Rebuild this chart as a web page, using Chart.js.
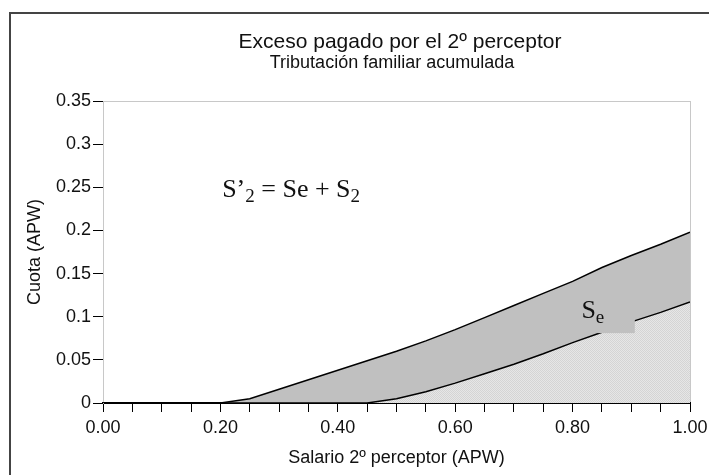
<!DOCTYPE html>
<html>
<head>
<meta charset="utf-8">
<script src="https://cdn.jsdelivr.net/npm/chart.js@4.4.1/dist/chart.umd.min.js"></script>
<style>
    html, body { margin: 0; padding: 0; background: #fff; }
    #wrap { width: 709px; height: 475px; }
</style>
</head>
<body>
<div id="wrap"><canvas id="grafico"></canvas></div>
<script>
// salario del 2º perceptor (APW)
const salario = [0, 0.05, 0.10, 0.15, 0.20, 0.25, 0.30, 0.35, 0.40, 0.45, 0.50,
    0.55, 0.60, 0.65, 0.70, 0.75, 0.80, 0.85, 0.90, 0.95, 1.00];
// S'2 = Se + S2 (tributación familiar acumulada)
const cuotaAcumulada = [0, 0, 0, 0, 0, 0.005, 0.016, 0.027, 0.038, 0.049, 0.060,
    0.072, 0.085, 0.099, 0.113, 0.127, 0.141, 0.157, 0.171, 0.184, 0.198];
// S2
const cuotaIndividual = [0, 0, 0, 0, 0, 0, 0, 0, 0, 0, 0.005,
    0.013, 0.023, 0.034, 0.045, 0.057, 0.070, 0.082, 0.094, 0.105, 0.117];

const titulo = "Exceso pagado por el 2º perceptor";
const subtitulo = "Tributación familiar acumulada";
const formula = ["S’", "2", " = Se + S", "2"];

const fuente = "'Liberation Sans', Arial, sans-serif";
const serif = "'Liberation Serif', 'Times New Roman', serif";

function puntos(ys) {
    return salario.map((x, i) => ({ x: x, y: ys[i] }));
}

// trama punteada del área inferior
function trama() {
    const c = document.createElement("canvas");
    c.width = 2;
    c.height = 2;
    const g = c.getContext("2d");
    g.fillStyle = "#e6e6e6";
    g.fillRect(0, 0, 2, 2);
    g.fillStyle = "#d4d4d4";
    g.fillRect(0, 0, 1, 1);
    g.fillRect(1, 1, 1, 1);
    return g.createPattern(c, "repeat");
}

const marco = {
    id: "marco",
    beforeDraw(chart) {
        const ctx = chart.ctx;
        const a = chart.chartArea;
        ctx.save();
        ctx.fillStyle = "#fff";
        ctx.fillRect(0, 0, chart.width, chart.height);
        ctx.strokeStyle = "#444";
        ctx.lineWidth = 2;
        ctx.beginPath();
        ctx.moveTo(10, chart.height);
        ctx.lineTo(10, 13);
        ctx.lineTo(chart.width, 13);
        ctx.stroke();
        ctx.strokeStyle = "#c8c8c8";
        ctx.lineWidth = 1;
        ctx.strokeRect(a.left + 0.5, a.top + 0.5, a.right - a.left, a.bottom - a.top);
        ctx.fillStyle = "#111";
        ctx.textAlign = "center";
        ctx.textBaseline = "middle";
        ctx.font = "21px " + fuente;
        ctx.fillText(titulo, 400, 42);
        ctx.font = "18px " + fuente;
        ctx.fillText(subtitulo, 392, 63);
        ctx.restore();
    },
    afterDatasetsDraw(chart) {
        const ctx = chart.ctx;
        const x = chart.scales.x;
        const y = chart.scales.y;
        ctx.save();
        // parche bajo la etiqueta Se
        ctx.fillStyle = "#c0c0c0";
        ctx.fillRect(x.getPixelForValue(0.842), y.getPixelForValue(0.12),
            x.getPixelForValue(0.906) - x.getPixelForValue(0.842),
            y.getPixelForValue(0.081) - y.getPixelForValue(0.12));
        ctx.fillStyle = "#111";
        ctx.textBaseline = "alphabetic";
        ctx.textAlign = "left";
        ctx.font = "26px " + serif;
        let px = x.getPixelForValue(0.815);
        const py = y.getPixelForValue(0.0985);
        ctx.fillText("S", px, py);
        px += ctx.measureText("S").width;
        ctx.font = "19px " + serif;
        ctx.fillText("e", px, py + 5);
        // fórmula
        let fx = x.getPixelForValue(0.203);
        const fy = y.getPixelForValue(0.239);
        formula.forEach((t, i) => {
            const sub = i % 2 == 1;
            ctx.font = (sub ? "19px " : "26px ") + serif;
            ctx.fillText(t, fx, fy + (sub ? 5 : 0));
            fx += ctx.measureText(t).width;
        });
        ctx.restore();
    }
};

const ctx = document.getElementById("grafico").getContext("2d");
const myChart = new Chart(ctx, {
    type: "line",
    data: {
        datasets: [{
                label: "S2",
                data: puntos(cuotaIndividual),
                borderColor: "#000",
                borderWidth: 1.5,
                backgroundColor: trama(),
                fill: "origin",
                pointRadius: 0,
                tension: 0,
            },
            {
                label: "S'2",
                data: puntos(cuotaAcumulada),
                borderColor: "#000",
                borderWidth: 1.5,
                backgroundColor: "#c0c0c0",
                fill: "-1",
                pointRadius: 0,
                tension: 0,
            },
        ],
    },
    options: {
        responsive: true,
        maintainAspectRatio: false,
        animation: false,
        layout: {
            padding: { left: 10, right: 19, top: 101, bottom: 0 },
        },
        plugins: {
            legend: { display: false },
            tooltip: { enabled: false },
        },
        scales: {
            x: {
                type: "linear",
                min: 0,
                max: 1,
                afterFit(scale) {
                    scale.height = 72;
                    scale.paddingLeft = 0;
                    scale.paddingRight = 0;
                },
                border: { color: "#000", width: 2 },
                grid: {
                    drawOnChartArea: false,
                    tickLength: 9,
                    color: "#000",
                },
                ticks: {
                    stepSize: 0.05,
                    autoSkip: false,
                    maxRotation: 0,
                    color: "#111",
                    padding: 5,
                    font: { family: fuente, size: 18 },
                    callback: function(v) {
                        const r = Math.round(v * 100);
                        return r % 20 == 0 ? (r / 100).toFixed(2) : "";
                    },
                },
                title: {
                    display: true,
                    text: "Salario 2º perceptor (APW)",
                    color: "#111",
                    font: { family: fuente, size: 18 },
                    padding: { top: 0, bottom: 6 },
                },
            },
            y: {
                min: 0,
                max: 0.35,
                afterFit(scale) {
                    scale.width = 93;
                    scale.paddingTop = 0;
                    scale.paddingBottom = 0;
                },
                border: { color: "#c8c8c8", width: 1 },
                grid: {
                    drawOnChartArea: false,
                    tickLength: 10,
                    color: "#000",
                },
                ticks: {
                    stepSize: 0.05,
                    color: "#111",
                    padding: 2,
                    font: { family: fuente, size: 18 },
                    callback: function(v) {
                        return String(Math.round(v * 100) / 100);
                    },
                },
                title: {
                    display: true,
                    text: "Cuota (APW)",
                    color: "#111",
                    font: { family: fuente, size: 18 },
                    padding: { top: 14, bottom: 0 },
                },
            },
        },
    },
    plugins: [marco],
});
</script>
</body>
</html>
